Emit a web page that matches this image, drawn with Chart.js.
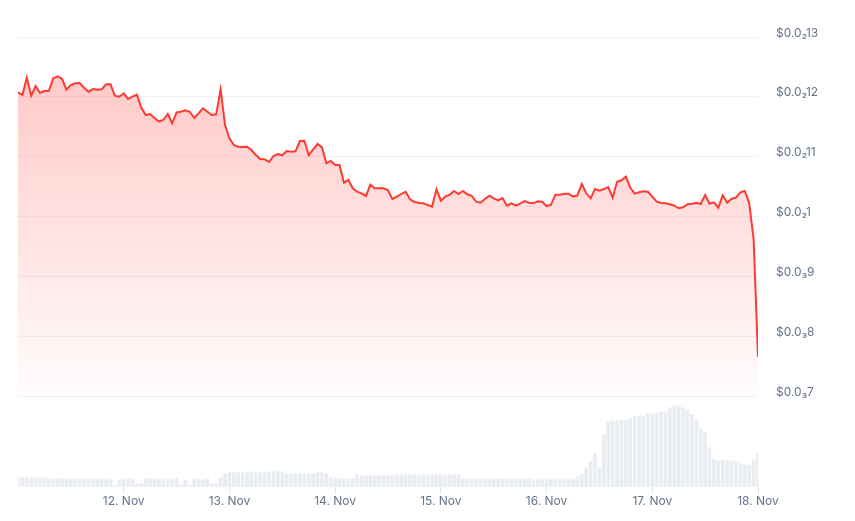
<!DOCTYPE html>
<html>
<head>
<meta charset="utf-8">
<script src="https://cdn.jsdelivr.net/npm/chart.js@4.4.1/dist/chart.umd.min.js"></script>
<style>
  html, body { margin: 0; padding: 0; background: #ffffff; }
  #wrap { width: 855px; height: 521px; position: relative; }
</style>
</head>
<body>
<div id="wrap"><canvas id="c" width="855" height="521"></canvas></div>
<script>
// Hourly samples from 11 Nov 00:00 to 18 Nov 00:00 (index = hours since 11 Nov 00:00)
const dayTickHours = [24, 48, 72, 96, 120, 144, 168];
const dayLabels = ['12. Nov', '13. Nov', '14. Nov', '15. Nov', '16. Nov', '17. Nov', '18. Nov'];
const priceTicks = [0.0007, 0.0008, 0.0009, 0.0010, 0.0011, 0.0012, 0.0013];

const price = [
  0.0012076, 0.0012031, 0.0012320, 0.0012019, 0.0012181, 0.0012064, 0.0012097, 0.0012097, 0.0012310, 0.0012343,
  0.0012298, 0.0012119, 0.0012198, 0.0012226, 0.0012231, 0.0012153, 0.0012086, 0.0012131, 0.0012119, 0.0012126,
  0.0012209, 0.0012209, 0.0012019, 0.0012002, 0.0012059, 0.0011964, 0.0012002, 0.0012036, 0.0011818, 0.0011696,
  0.0011713, 0.0011641, 0.0011591, 0.0011613, 0.0011713, 0.0011558, 0.0011741, 0.0011751, 0.0011775, 0.0011751,
  0.0011646, 0.0011725, 0.0011808, 0.0011751, 0.0011696, 0.0011708, 0.0012126, 0.0011529, 0.0011307, 0.0011195,
  0.0011167, 0.0011161, 0.0011167, 0.0011111, 0.0011028, 0.0010961, 0.0010956, 0.0010911, 0.0011011, 0.0011044,
  0.0011023, 0.0011095, 0.0011083, 0.0011090, 0.0011262, 0.0011267, 0.0011028, 0.0011123, 0.0011212, 0.0011156,
  0.0010889, 0.0010928, 0.0010861, 0.0010861, 0.0010565, 0.0010610, 0.0010471, 0.0010414, 0.0010388, 0.0010343,
  0.0010531, 0.0010471, 0.0010471, 0.0010471, 0.0010438, 0.0010292, 0.0010331, 0.0010376, 0.0010414, 0.0010287,
  0.0010242, 0.0010225, 0.0010220, 0.0010192, 0.0010164, 0.0010454, 0.0010264, 0.0010331, 0.0010364, 0.0010426,
  0.0010376, 0.0010426, 0.0010371, 0.0010347, 0.0010247, 0.0010230, 0.0010292, 0.0010347, 0.0010304, 0.0010271,
  0.0010309, 0.0010180, 0.0010220, 0.0010180, 0.0010214, 0.0010259, 0.0010230, 0.0010220, 0.0010254, 0.0010247,
  0.0010175, 0.0010192, 0.0010364, 0.0010364, 0.0010381, 0.0010381, 0.0010331, 0.0010354, 0.0010543, 0.0010388,
  0.0010304, 0.0010459, 0.0010431, 0.0010459, 0.0010493, 0.0010314, 0.0010582, 0.0010605, 0.0010665, 0.0010481,
  0.0010381, 0.0010404, 0.0010421, 0.0010414, 0.0010331, 0.0010247, 0.0010225, 0.0010220, 0.0010204, 0.0010180,
  0.0010137, 0.0010154, 0.0010204, 0.0010214, 0.0010230, 0.0010209, 0.0010359, 0.0010214, 0.0010237, 0.0010147,
  0.0010354, 0.0010230, 0.0010297, 0.0010314, 0.0010404, 0.0010426, 0.0010225, 0.0009624, 0.0007657
];

// Relative hourly volume
const volume = [
  8.3, 8.3, 8.3, 8.3, 8.3, 8.3, 8.3, 7.3, 7.3, 7.3,
  7.3, 7.3, 7.3, 7.3, 7.3, 7.3, 7.3, 7.3, 7.3, 7.3,
  6.3, 6.3, 0, 6.3, 6.3, 7.3, 7.3, 2.3, 2.3, 7.3,
  7.3, 7.3, 7.3, 6.3, 6.3, 6.3, 7.3, 1.3, 6.3, 1.3,
  7.3, 7.3, 6.3, 7.3, 2.3, 2.3, 8.3, 12.3, 13.3, 13.3,
  13.3, 13.3, 13.3, 14.3, 13.3, 13.3, 13.3, 14.3, 14.3, 14.3,
  14.3, 12.3, 12.3, 12.3, 12.3, 12.3, 12.3, 12.3, 13.3, 13.3,
  12.3, 8.3, 8.3, 7.3, 7.3, 7.3, 7.3, 11.3, 10.3, 10.3,
  10.3, 10.3, 10.3, 10.3, 10.3, 10.3, 11.3, 11.3, 11.3, 11.3,
  11.3, 11.3, 11.3, 11.3, 11.3, 11.3, 11.3, 11.3, 11.3, 11.3,
  11.3, 7.3, 7.3, 7.3, 7.3, 7.3, 7.3, 7.3, 7.3, 7.3,
  7.3, 7.3, 7.3, 7.3, 7.3, 7.3, 7.3, 6.3, 6.3, 6.3,
  6.3, 6.3, 6.3, 6.3, 6.3, 6.3, 6.3, 9.3, 11.3, 18.3,
  24.3, 32.3, 18.3, 51.3, 64, 65.3, 65.3, 66, 66, 67.3,
  69.3, 70.3, 70.3, 72.3, 72.3, 73.3, 74.3, 74.3, 78.3, 80.3,
  80.3, 78.3, 76.3, 71.3, 65.3, 57.3, 53.3, 38.3, 26.3, 25.3,
  25.3, 25.3, 25.3, 24.3, 22.3, 21.3, 20.3, 26.3, 32.3
];

const SUBS = ['₀','₁','₂','₃','₄','₅','₆','₇','₈','₉'];
function formatPrice(v) {
  const exp = Math.floor(Math.log10(v) + 1e-9);
  const zeros = -exp - 1;
  let digits = String(Math.round(v / Math.pow(10, exp - 1)));
  digits = digits.replace(/0+$/, '');
  return '$0.0' + SUBS[zeros] + digits;
}

const LINE = '#ff3a33';
const FONT = { family: 'Inter, "Noto Sans", sans-serif', size: 12 };
const TXT = '#64748b';

const ctx = document.getElementById('c').getContext('2d');
new Chart(ctx, {
  data: {
    datasets: [
      {
        type: 'line',
        label: 'Price',
        data: price.map((p, i) => ({ x: i, y: p })),
        yAxisID: 'y',
        borderColor: LINE,
        borderWidth: 2,
        pointRadius: 0,
        tension: 0,
        fill: { value: priceTicks[0] },
        backgroundColor: (c) => {
          const chart = c.chart;
          const area = chart.chartArea;
          if (!area) return 'rgba(255,58,51,0.2)';
          const yb = chart.scales.y.getPixelForValue(priceTicks[0]);
          const g = chart.ctx.createLinearGradient(0, area.top, 0, yb);
          g.addColorStop(0, 'rgba(255,58,51,0.30)');
          g.addColorStop(1, 'rgba(255,58,51,0.01)');
          return g;
        },
        order: 1
      },
      {
        type: 'bar',
        label: 'Volume',
        data: volume.map((v, i) => ({ x: i, y: v })),
        yAxisID: 'yv',
        backgroundColor: '#e9edf2',
        barThickness: 3,
        order: 2
      }
    ]
  },
  options: {
    responsive: false,
    animation: false,
    devicePixelRatio: 1,
    layout: { padding: { left: 18, top: 37, right: 0, bottom: 0 } },
    plugins: { legend: { display: false }, tooltip: { enabled: false } },
    scales: {
      x: {
        type: 'linear',
        min: 0,
        max: 168,
        offset: false,
        afterBuildTicks: (s) => { s.ticks = dayTickHours.map(v => ({ value: v })); },
        afterFit: (s) => { s.height = 35; },
        grid: { offset: false, drawOnChartArea: false, drawTicks: true, tickLength: 8, color: '#e3e7ed' },
        border: { display: true, color: '#eef1f5' },
        ticks: {
          autoSkip: false,
          maxRotation: 0,
          padding: 0,
          color: TXT,
          font: FONT,
          callback: (v) => { const k = dayTickHours.indexOf(v); return k >= 0 ? dayLabels[k] : ''; }
        }
      },
      y: {
        type: 'linear',
        position: 'right',
        min: 0.0013 - (486 - 37) / 359 * 0.0006,
        max: 0.0013,
        afterBuildTicks: (s) => { s.ticks = priceTicks.map(v => ({ value: v })); },
        afterFit: (s) => { s.width = 97; },
        grid: { drawTicks: false, color: '#eff1f4' },
        border: { display: false },
        ticks: {
          padding: 18,
          labelOffset: -4,
          color: TXT,
          font: FONT,
          callback: (v) => formatPrice(v)
        }
      },
      yv: {
        type: 'linear',
        display: false,
        min: 0,
        max: 449
      }
    }
  }
});
</script>
</body>
</html>
